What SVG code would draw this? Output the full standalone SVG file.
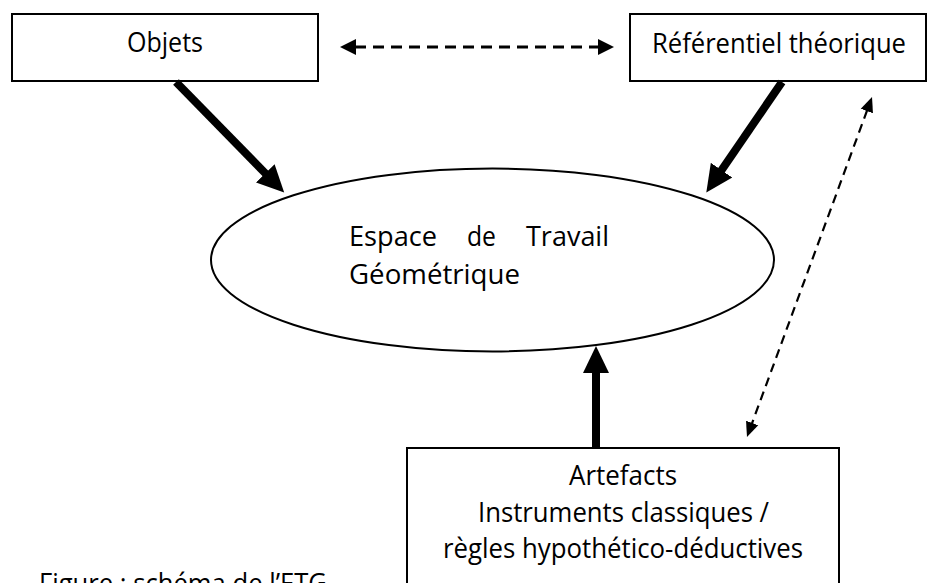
<svg xmlns="http://www.w3.org/2000/svg" width="928" height="583" viewBox="0 0 928 583">
<style>
.box{fill:#fff;stroke:#000;stroke-width:2}
.t{font-family:"Open Sans","DejaVu Sans",sans-serif;font-size:27px;fill:#000}
.thick{stroke:#000;stroke-width:8;fill:none}
.dash1{stroke:#000;stroke-width:3;stroke-dasharray:11 7;fill:none}
.dash2{stroke:#000;stroke-width:2.2;stroke-dasharray:9 6;fill:none}
</style>
<defs>
<marker id="hThick" markerUnits="userSpaceOnUse" markerWidth="28" markerHeight="28" refX="1" refY="13" orient="auto" viewBox="0 0 28 26">
<path d="M0,0 L27,13 L0,26 z" fill="#000"/>
</marker>
<marker id="hDash1" markerUnits="userSpaceOnUse" markerWidth="18" markerHeight="18" refX="1" refY="8" orient="auto-start-reverse" viewBox="0 0 18 16">
<path d="M0,0 L16,8 L0,16 z" fill="#000"/>
</marker>
<marker id="hDash2" markerUnits="userSpaceOnUse" markerWidth="16" markerHeight="14" refX="1" refY="6.5" orient="auto-start-reverse" viewBox="0 0 16 13">
<path d="M0,0 L15,6.5 L0,13 z" fill="#000"/>
</marker>
</defs>
<rect width="928" height="583" fill="#fff"/>
<g id="objets">
<rect class="box" x="12" y="14" width="306" height="67"/>
<text class="t" x="127" y="52" textLength="76" lengthAdjust="spacingAndGlyphs">Objets</text>
</g>
<g id="referentiel">
<rect class="box" x="630" y="14" width="296" height="67"/>
<text class="t" x="652" y="53" textLength="254" lengthAdjust="spacingAndGlyphs">Référentiel théorique</text>
</g>
<g id="etg">
<ellipse cx="492.5" cy="260" rx="281.5" ry="91.5" fill="#fff" stroke="#000" stroke-width="2"/>
<text class="t" x="349" y="246" textLength="88" lengthAdjust="spacingAndGlyphs">Espace</text>
<text class="t" x="467" y="246" textLength="29" lengthAdjust="spacingAndGlyphs">de</text>
<text class="t" x="526" y="246" textLength="83" lengthAdjust="spacingAndGlyphs">Travail</text>
<text class="t" x="349" y="284" textLength="171" lengthAdjust="spacingAndGlyphs">Géométrique</text>
</g>
<g id="artefacts">
<rect class="box" x="407" y="448" width="432" height="150"/>
<text class="t" x="569" y="485" textLength="108" lengthAdjust="spacingAndGlyphs">Artefacts</text>
<text class="t" x="478" y="522" textLength="291" lengthAdjust="spacingAndGlyphs">Instruments classiques /</text>
<text class="t" x="443" y="558" textLength="360" lengthAdjust="spacingAndGlyphs">règles hypothético-déductives</text>
</g>
<g id="caption">
<text class="t" x="39" y="593" textLength="288" lengthAdjust="spacingAndGlyphs">Figure : schéma de l’ETG</text>
</g>
<g id="connectors">
<line class="thick" x1="176" y1="82" x2="266" y2="174" marker-end="url(#hThick)"/>
<line class="thick" x1="782" y1="82" x2="721" y2="171" marker-end="url(#hThick)"/>
<line class="thick" x1="596" y1="448" x2="596" y2="372" marker-end="url(#hThick)"/>
<line class="dash1" x1="355" y1="47" x2="599" y2="47" marker-start="url(#hDash1)" marker-end="url(#hDash1)"/>
<line class="dash2" x1="867.2" y1="110.1" x2="751.8" y2="423.9" marker-start="url(#hDash2)" marker-end="url(#hDash2)"/>
</g>
</svg>
